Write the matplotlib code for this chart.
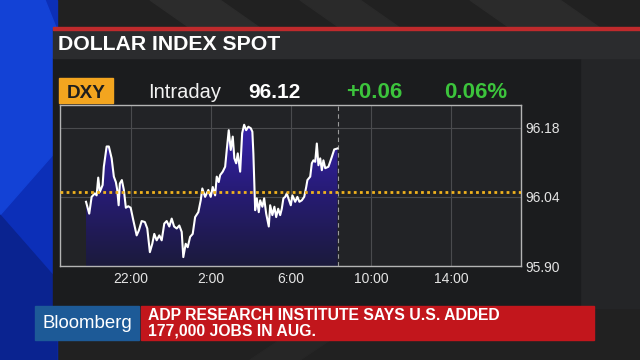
import numpy as np
import matplotlib.pyplot as plt
from matplotlib.colors import LinearSegmentedColormap
from matplotlib.patches import Rectangle, Polygon

plt.rcParams['font.family'] = ['Liberation Sans', 'DejaVu Sans']

# intraday DXY, hours relative to midnight (negative = previous evening)
hours = [-4.23, -4.07, -3.95, -3.79, -3.70, -3.62, -3.54, -3.40, -3.34, -3.20,
         -3.09, -2.95, -2.84, -2.74, -2.67, -2.60, -2.54, -2.44, -2.34, -2.24,
         -2.12, -2.00, -1.87, -1.70, -1.59, -1.45, -1.29, -1.17, -1.04, -0.92,
         -0.82, -0.70, -0.57, -0.45, -0.32, -0.20, -0.07, 0.05, 0.17, 0.30,
         0.43, 0.55, 0.63, 0.75, 0.85, 0.97, 1.10, 1.22, 1.38, 1.50,
         1.58, 1.72, 1.88, 2.00, 2.10, 2.22, 2.30, 2.40, 2.47, 2.60,
         2.72, 2.80, 2.90, 3.00, 3.10, 3.18, 3.27, 3.35, 3.47, 3.57,
         3.67, 3.77, 3.88, 4.00, 4.08, 4.13, 4.22, 4.30, 4.40, 4.47,
         4.58, 4.67, 4.77, 4.90, 4.97, 5.08, 5.18, 5.27, 5.37, 5.47,
         5.55, 5.63, 5.72, 5.80, 5.88, 6.00, 6.08, 6.22, 6.33, 6.43,
         6.55, 6.67, 6.77, 6.83, 6.97, 7.05, 7.13, 7.22, 7.30, 7.38,
         7.47, 7.55, 7.63, 7.72, 7.88, 8.05, 8.17, 8.33]
values = [96.030, 96.006, 96.040, 96.047, 96.043, 96.079, 96.050, 96.064, 96.101, 96.142,
          96.142, 96.118, 96.081, 96.070, 96.054, 96.023, 96.067, 96.074, 96.054, 96.018,
          96.021, 96.018, 95.993, 95.962, 95.972, 95.991, 95.989, 95.976, 95.928, 95.945,
          95.965, 95.952, 95.962, 95.952, 95.986, 95.991, 95.980, 95.996, 95.980, 95.976,
          95.982, 95.969, 95.918, 95.945, 95.938, 95.959, 95.965, 95.999, 96.009, 96.033,
          96.057, 96.040, 96.054, 96.040, 96.060, 96.043, 96.081, 96.070, 96.084, 96.091,
          96.101, 96.135, 96.175, 96.135, 96.162, 96.118, 96.108, 96.128, 96.091, 96.169,
          96.186, 96.175, 96.182, 96.179, 96.172, 96.128, 96.013, 96.037, 96.009, 96.033,
          96.020, 96.037, 96.006, 95.980, 96.023, 96.003, 96.020, 95.999, 96.016, 96.003,
          96.016, 96.037, 96.040, 96.047, 96.037, 96.023, 96.043, 96.030, 96.040, 96.030,
          96.033, 96.040, 96.060, 96.074, 96.081, 96.108, 96.114, 96.111, 96.148, 96.104,
          96.118, 96.094, 96.114, 96.098, 96.101, 96.121, 96.136, 96.138]
prev_close = 96.05
now_h = 8.35

xticks = [-2, 2, 6, 10, 14]
xlabels = ['22:00', '2:00', '6:00', '10:00', '14:00']
yticks = [95.90, 96.04, 96.18]
ylabels = ['95.90', '96.04', '96.18']

title = 'DOLLAR INDEX SPOT'
ticker = 'DXY'
period = 'Intraday'
last = '96.12'
change = '+0.06'
pct = '0.06%'
brand = 'Bloomberg'
headline = ['ADP RESEARCH INSTITUTE SAYS U.S. ADDED', '177,000 JOBS IN AUG.']

fig = plt.figure(figsize=(6.4, 3.6), dpi=100, facecolor='#202020')

# backdrop, drawn in pixel units
bg = fig.add_axes([0, 0, 1, 1], zorder=0)
bg.set_xlim(0, 640)
bg.set_ylim(360, 0)
bg.axis('off')
bg.add_patch(Rectangle((0, 0), 640, 360, color='#212121'))
for x0, w, c in [(150, 70, '#2c2c2c'), (300, 60, '#2a2a2a'), (470, 90, '#2b2b2b')]:
    bg.add_patch(Polygon([(x0, 0), (x0 + w, 0), (x0 + w + 40, 28), (x0 + 40, 28)], color=c))
bg.add_patch(Polygon([(250, 360), (300, 360), (330, 340), (280, 340)], color='#262626'))
bg.add_patch(Rectangle((580, 58), 60, 250, color='#242527'))
# blue strip on the left
bg.add_patch(Rectangle((0, 0), 57, 360, color='#0c2fb8'))
bg.add_patch(Polygon([(0, 0), (45, 0), (57, 30), (57, 150), (0, 215)], color='#1342d6'))
bg.add_patch(Polygon([(0, 215), (57, 280), (57, 360), (0, 360)], color='#0a2390'))
# panel, title bar and red rule
bg.add_patch(Rectangle((53, 58), 527, 250, color='#1b1c1e'))
bg.add_patch(Rectangle((53, 29), 587, 29, color='#2b2c2e'))
bg.add_patch(Rectangle((53, 27), 587, 2.5, color='#bf2a2c'))
bg.text(58, 44, title, color='white', fontsize=15.3, fontweight='bold', va='center')

bg.add_patch(Rectangle((59, 78), 54, 25, color='#f3a51f'))
bg.text(86, 98, ticker, color='#1e1e1e', fontsize=13.6, fontweight='bold',
        ha='center', va='baseline')
bg.text(184.5, 98.5, period, color='#f2f2f2', fontsize=14.5, ha='center', va='baseline')
bg.text(274.5, 98.5, last, color='white', fontsize=15, fontweight='bold',
        ha='center', va='baseline')
bg.text(374, 98.5, change, color='#3cc43c', fontsize=16, fontweight='bold',
        ha='center', va='baseline')
bg.text(475.5, 98.5, pct, color='#3cc43c', fontsize=16, fontweight='bold',
        ha='center', va='baseline')

# lower third
bg.add_patch(Rectangle((35, 306), 104, 34, color='#1d5a97'))
bg.text(87, 323, brand, color='white', fontsize=13.4, ha='center', va='center')
bg.add_patch(Rectangle((141, 306), 453, 34, color='#c2161c'))
bg.text(148, 315, headline[0], color='white', fontsize=11.3, fontweight='bold', va='center')
bg.text(148, 331.5, headline[1], color='white', fontsize=11.3, fontweight='bold', va='center')

# chart
ax = fig.add_axes([60 / 640, 94 / 360, 461 / 640, 161 / 360], zorder=2)
ax.set_facecolor('#222326')
xlim = (-5.53, 17.5)
ylim = (95.90, 96.226)

poly = ax.fill_between(hours, values, ylim[0], facecolor='none', edgecolor='none')
cmap = LinearSegmentedColormap.from_list('dxy', ['#1b1a3c', '#281c7a', '#3b24bb'])
grad = np.linspace(0, 1, 256).reshape(-1, 1)
img = ax.imshow(grad, cmap=cmap, extent=[xlim[0], xlim[1], ylim[0], ylim[1]],
                origin='lower', aspect='auto', zorder=1)
img.set_clip_path(poly.get_paths()[0], transform=ax.transData)

ax.plot(hours, values, color='white', lw=1.5, zorder=4)
ax.axhline(prev_close, color='#f0b21e', lw=2, ls=(0, (1, 1.2)), zorder=5)
ax.axvline(now_h, color='#9a9a9a', lw=0.8, ls=(0, (4, 3)), zorder=3)

ax.set_xlim(*xlim)
ax.set_ylim(*ylim)
ax.set_xticks(xticks, xlabels)
ax.set_yticks(yticks, ylabels)
ax.yaxis.tick_right()
ax.tick_params(length=0, colors='#e4e4e4', labelsize=10)
ax.tick_params(axis='x', pad=4)
ax.tick_params(axis='y', pad=3)
ax.grid(True, color='#4a4b4e', lw=0.8, zorder=0)
ax.set_axisbelow(True)
for s in ax.spines.values():
    s.set_color('#b4b4b4')
    s.set_linewidth(1)

fig.savefig('out.png', dpi=100, facecolor=fig.get_facecolor())
